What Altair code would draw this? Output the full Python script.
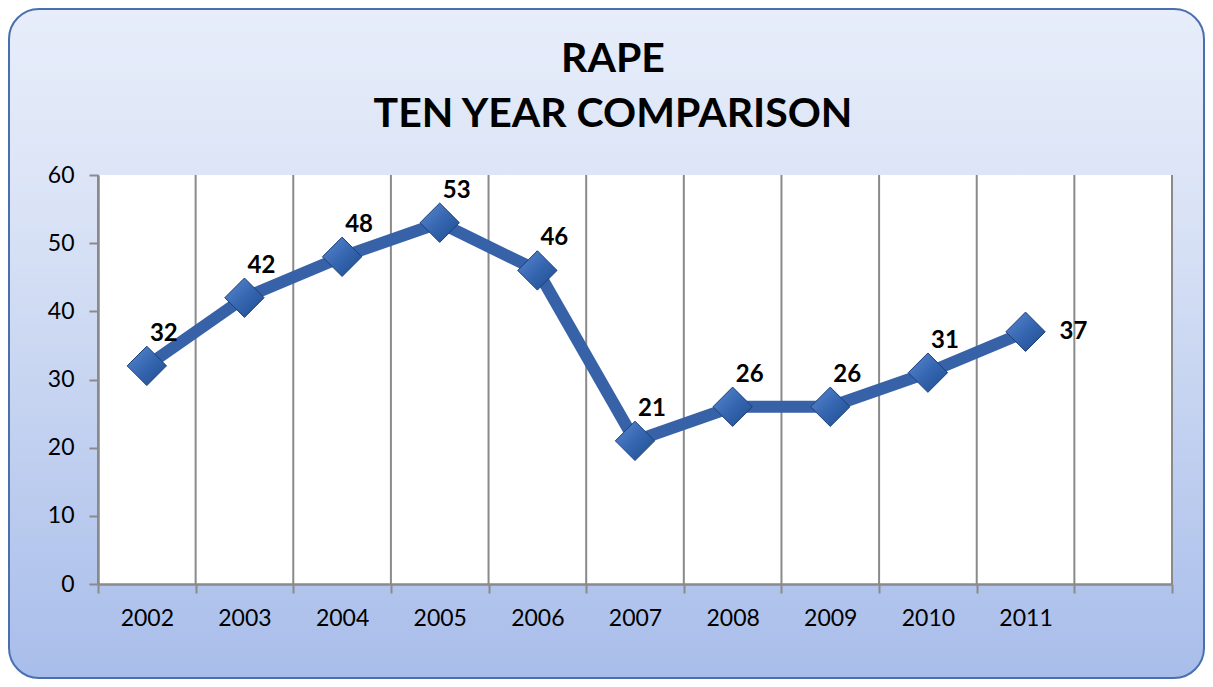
import altair as alt
import pandas as pd

years = ["2002", "2003", "2004", "2005", "2006", "2007", "2008", "2009", "2010", "2011"]
values = [32, 42, 48, 53, 46, 21, 26, 26, 31, 37]
slots = years + [""]          # Excel leaves one empty category at the end
y_ticks = [0, 10, 20, 30, 40, 50, 60]
title_lines = ["RAPE", "TEN YEAR COMPARISON"]

W, H = 1074, 409
FONT = "Lato"

df = pd.DataFrame({"year": years, "value": values})
grid_df = pd.DataFrame({"year": slots})
one = pd.DataFrame({"k": [0]})

x_scale = alt.Scale(type="band", domain=slots, paddingInner=0, paddingOuter=0)
y_scale = alt.Scale(domain=[0, 60])

bg_grad = alt.Gradient(
    gradient="linear", x1=0, x2=0, y1=0, y2=1,
    stops=[alt.GradientStop(color="#e7edfa", offset=0),
           alt.GradientStop(color="#dae3f6", offset=0.3),
           alt.GradientStop(color="#a8bdea", offset=1)],
)
pt_grad = alt.Gradient(
    gradient="linear", x1=0, x2=1, y1=0, y2=1,
    stops=[alt.GradientStop(color="#5a8ad0", offset=0),
           alt.GradientStop(color="#3566b0", offset=0.5),
           alt.GradientStop(color="#1f4c8e", offset=1)],
)

background = alt.Chart(one).mark_rect(
    fill=bg_grad, stroke="#4a6fb0", strokeWidth=2, cornerRadius=30
).encode(
    x=alt.value(-89), x2=alt.value(W + 32),
    y=alt.value(-166), y2=alt.value(H + 94),
)

plot_bg = alt.Chart(one).mark_rect(fill="white").encode(
    x=alt.value(0), x2=alt.value(W), y=alt.value(0), y2=alt.value(H)
)

x_axis = alt.Axis(
    title=None, tickBand="extent", labelAngle=0, zindex=1, grid=False,
    domainColor="#8a8a8a", domainWidth=2.5, tickColor="#8a8a8a", tickWidth=2,
    tickSize=9, labelFont=FONT, labelFontSize=23, labelColor="black",
    labelPadding=14,
)
y_axis = alt.Axis(
    title=None, values=y_ticks, zindex=1, grid=False,
    domainColor="#8a8a8a", domainWidth=2.5, tickColor="#8a8a8a", tickWidth=2,
    tickSize=9, labelFont=FONT, labelFontSize=23, labelColor="black",
    labelPadding=15,
)

grid = alt.Chart(grid_df).mark_rule(color="#8a8a8a", strokeWidth=2).encode(
    x=alt.X("year:N", scale=x_scale, bandPosition=0, axis=x_axis),
)
grid_end = alt.Chart(one).mark_rule(color="#8a8a8a", strokeWidth=2).encode(
    x=alt.value(W), y=alt.value(0), y2=alt.value(H)
)

base = alt.Chart(df).encode(
    x=alt.X("year:N", scale=x_scale, bandPosition=0.5, axis=x_axis),
    y=alt.Y("value:Q", scale=y_scale, axis=y_axis),
)

line = base.mark_line(color="#3762a8", strokeWidth=12, strokeJoin="miter")
points = base.mark_point(
    shape="diamond", size=1550, filled=True, fill=pt_grad,
    stroke="#1d3f78", strokeWidth=1, opacity=1,
)
labels = base.transform_filter(alt.datum.year != "2011").mark_text(
    font=FONT, fontSize=24, fontWeight="bold", color="black",
    dx=17, dy=-32, align="center", baseline="middle",
).encode(text="value:Q")
label_last = base.transform_filter(alt.datum.year == "2011").mark_text(
    font=FONT, fontSize=24, fontWeight="bold", color="black",
    dx=48, dy=0, align="center", baseline="middle",
).encode(text="value:Q")

chart = alt.layer(
    background, plot_bg, grid, grid_end, line, points, labels, label_last
).properties(
    width=W, height=H,
    background="white",
    autosize=alt.AutoSizeParams(type="none"),
    padding={"left": 90, "top": 167, "right": 33, "bottom": 95},
    title=alt.Title(
        text=title_lines, font=FONT, fontSize=41, fontWeight="bold",
        color="black", anchor="middle", dx=-22, offset=0, dy=128,
        lineHeight=55,
    ),
).configure_view(stroke=None, fill=None)

chart.save("out.html", embed_options={"renderer": "svg", "actions": False})
